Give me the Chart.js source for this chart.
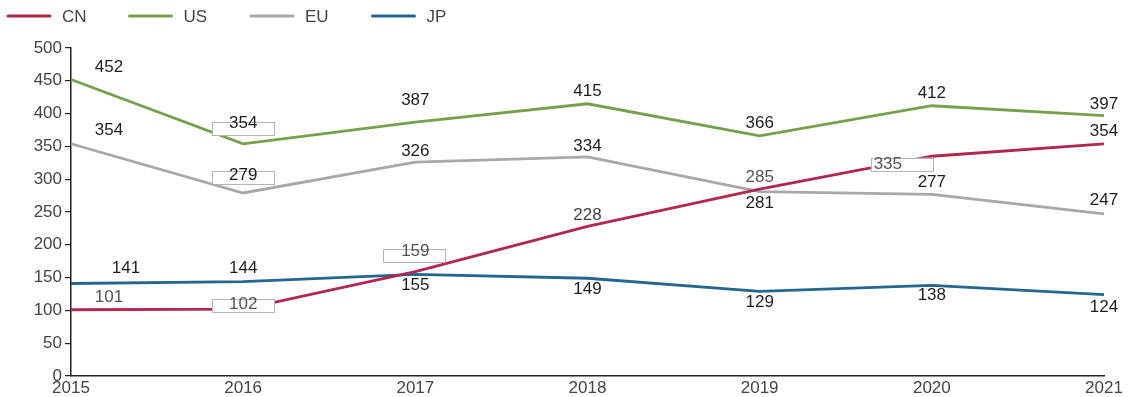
<!DOCTYPE html>
<html>
<head>
<meta charset="utf-8">
<script src="https://cdn.jsdelivr.net/npm/chart.js@4.4.1/dist/chart.umd.min.js"></script>
<style>
  html, body { margin: 0; padding: 0; background: #fff; }
  #wrap { width: 1131px; height: 397px; position: relative; }
</style>
</head>
<body>
<div id="wrap"><canvas id="c"></canvas></div>
<script>
// Years on the x axis
const years = ['2015', '2016', '2017', '2018', '2019', '2020', '2021'];

// Series values
const cnValues = [101, 102, 159, 228, 285, 335, 354];
const usValues = [452, 354, 387, 415, 366, 412, 397];
const euValues = [354, 279, 326, 334, 281, 277, 247];
const jpValues = [141, 144, 155, 149, 129, 138, 124];

// Y axis ticks
const yTicks = [0, 50, 100, 150, 200, 250, 300, 350, 400, 450, 500];

// Value-label placement: text centre offset from the point [dx, dy],
// and an optional framed box centre offset from the text centre.
const labelPlacement = {
  CN: {
    offset: [[38, -12], [0, -5], [0, -20], [0, -11], [0, -12], [-44, 8], [0, -12]],
    box:    [null, [0, 1.5], [-1, 3.5], null, null, [14, 0], null],
    color:  ['#555', '#555', '#555', '#444', '#555', '#555', '#1e1e1e']
  },
  US: {
    offset: [[38, -12], [0, -20], [0, -22], [0, -12], [0, -13], [0, -12], [0, -11]],
    box:    [null, [0, 5], null, null, null, null, null]
  },
  EU: {
    offset: [[38, -13], [0, -18], [0, -11], [0, -11], [0, 12], [0, -12], [0, -14]],
    box:    [null, [0, 2.5], null, null, null, null, null]
  },
  JP: {
    offset: [[55, -15], [0, -13], [0, 11], [0, 11], [0, 11], [0, 10], [0, 13]],
    box:    [null, null, null, null, null, null, null]
  }
};

const FONT = '"Liberation Sans", Arial, Helvetica, sans-serif';
const FONT_SIZE = 17;

const series = [
  { label: 'CN', data: cnValues, color: '#b0284c' },
  { label: 'US', data: usValues, color: '#76a04a' },
  { label: 'EU', data: euValues, color: '#a8a8a8' },
  { label: 'JP', data: jpValues, color: '#23668f' }
];

// Draws the value next to every point, some of them inside a thin framed box
const valueLabels = {
  id: 'valueLabels',
  afterDatasetsDraw(chart) {
    const ctx = chart.ctx;
    ctx.save();
    ctx.font = FONT_SIZE + 'px ' + FONT;
    ctx.textAlign = 'center';
    ctx.textBaseline = 'middle';
    chart.data.datasets.forEach((ds, di) => {
      const meta = chart.getDatasetMeta(di);
      const place = labelPlacement[ds.label];
      meta.data.forEach((pt, i) => {
        const [dx, dy] = place.offset[i];
        const tx = pt.x + dx, ty = pt.y + dy;
        const b = place.box[i];
        if (b) {
          const bw = 62, bh = 13;
          const bx = tx + b[0] - bw / 2, by = ty + b[1] - bh / 2;
          ctx.fillStyle = '#ffffff';
          ctx.fillRect(bx, by, bw, bh);
          ctx.strokeStyle = '#b4b4b4';
          ctx.lineWidth = 1;
          ctx.strokeRect(Math.round(bx) + 0.5, Math.round(by) + 0.5, bw, bh);
        }
        ctx.fillStyle = place.color ? place.color[i] : '#1e1e1e';
        ctx.fillText(String(ds.data[i]), tx, ty);
      });
    });
    ctx.restore();
  }
};

// Legend row along the top edge
const topLegend = {
  id: 'topLegend',
  afterDraw(chart) {
    const ctx = chart.ctx;
    ctx.save();
    ctx.font = FONT_SIZE + 'px ' + FONT;
    ctx.textBaseline = 'middle';
    ctx.textAlign = 'left';
    chart.data.datasets.forEach((ds, i) => {
      const x0 = 8 + i * 121.5;
      const y = 16;
      ctx.strokeStyle = ds.borderColor;
      ctx.lineWidth = 3;
      ctx.lineCap = 'round';
      ctx.beginPath();
      ctx.moveTo(x0, y);
      ctx.lineTo(x0 + 42, y);
      ctx.stroke();
      ctx.fillStyle = '#444';
      ctx.fillText(ds.label, x0 + 54, y + 1);
    });
    ctx.restore();
  }
};

new Chart(document.getElementById('c'), {
  type: 'line',
  data: {
    labels: years,
    datasets: series.map(s => ({
      label: s.label,
      data: s.data,
      borderColor: s.color,
      backgroundColor: s.color,
      borderWidth: 2.8,
      pointRadius: 0,
      pointHoverRadius: 0,
      tension: 0,
      fill: false
    }))
  },
  options: {
    responsive: true,
    maintainAspectRatio: false,
    animation: false,
    events: [],
    layout: { padding: { top: 48, right: 27, left: 0, bottom: 0 } },
    plugins: {
      legend: { display: false },
      tooltip: { enabled: false }
    },
    scales: {
      x: {
        type: 'category',
        offset: false,
        grid: { display: true, drawOnChartArea: false, drawTicks: false },
        border: { display: true, color: '#222', width: 1.5 },
        ticks: {
          color: '#444',
          font: { family: FONT, size: FONT_SIZE },
          padding: 2,
          maxRotation: 0,
          autoSkip: false
        },
        afterFit(scale) { scale.height = 21; }
      },
      y: {
        min: 0,
        max: 500,
        afterBuildTicks(scale) { scale.ticks = yTicks.map(v => ({ value: v })); },
        grid: { display: true, drawOnChartArea: false, drawTicks: true, tickLength: 6, color: '#222', lineWidth: 1.2 },
        border: { display: true, color: '#222', width: 1.5 },
        ticks: {
          color: '#444',
          font: { family: FONT, size: FONT_SIZE },
          padding: 3
        },
        afterFit(scale) { scale.width = 71; }
      }
    }
  },
  plugins: [valueLabels, topLegend]
});
</script>
</body>
</html>
